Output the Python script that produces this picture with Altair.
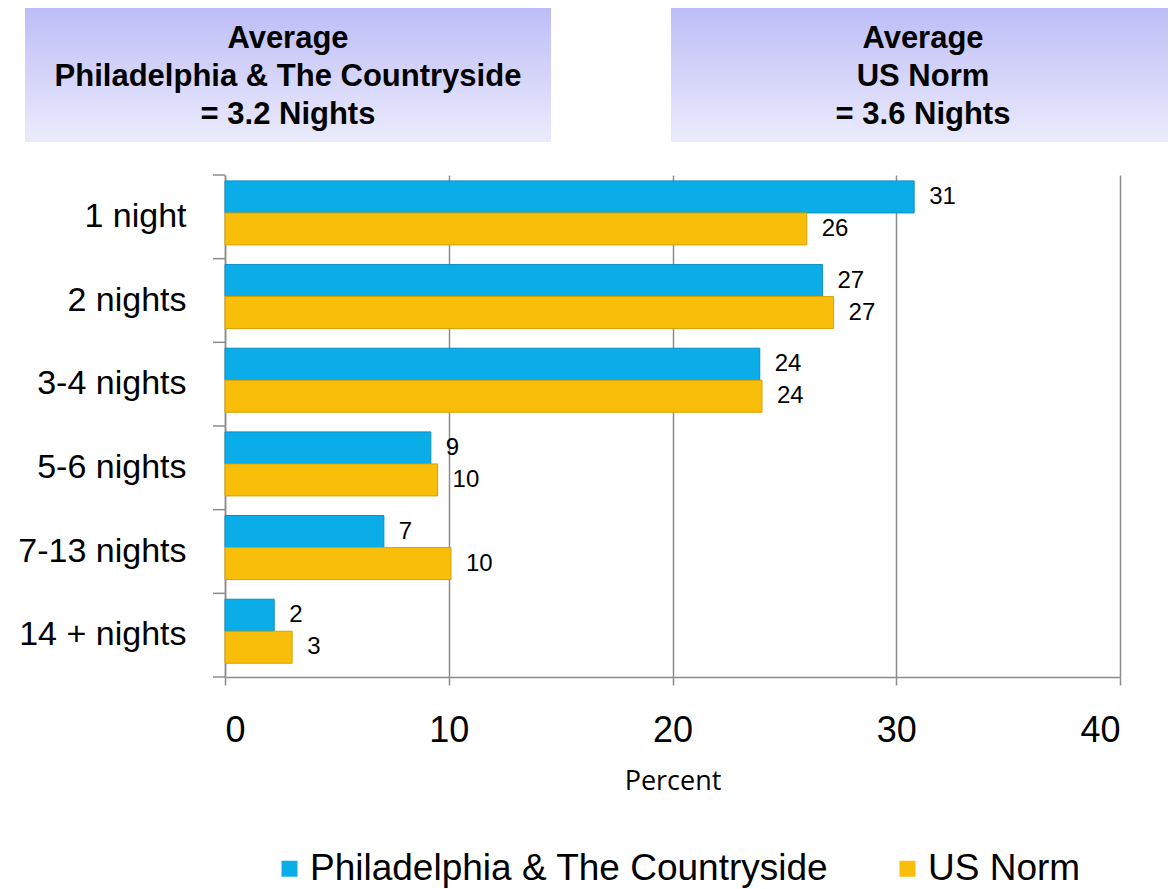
import altair as alt
import pandas as pd

categories = ["1 night", "2 nights", "3-4 nights", "5-6 nights", "7-13 nights", "14 + nights"]
series = ["Philadelphia & The Countryside", "US Norm"]
phila_values = [30.8, 26.7, 23.9, 9.2, 7.1, 2.2]
phila_labels = ["31", "27", "24", "9", "7", "2"]
us_values = [26.0, 27.2, 24.0, 9.5, 10.1, 3.0]
us_labels = ["26", "27", "24", "10", "10", "3"]
x_ticks = [0, 10, 20, 30, 40]
header_left = "Average\nPhiladelphia & The Countryside\n= 3.2 Nights"
header_right = "Average\nUS Norm\n= 3.6 Nights"
colors = ["#0AADE8", "#F9BE0A"]
stroke_colors = ["#0890C2", "#D9A000"]

rows = []
for c, v, l in zip(categories, phila_values, phila_labels):
    rows.append({"cat": c, "series": series[0], "value": v, "label": l})
for c, v, l in zip(categories, us_values, us_labels):
    rows.append({"cat": c, "series": series[1], "value": v, "label": l})
df = pd.DataFrame(rows)
cat_df = pd.DataFrame({"cat": categories})

FONT = "Liberation Sans"
W, H = 895, 502
GRID = "#8C8C8C"

y_enc = alt.Y("cat:N", sort=categories,
              scale=alt.Scale(paddingInner=0, paddingOuter=0),
              axis=alt.Axis(title=None, ticks=False, labelFontSize=34, labelFont=FONT,
                            labelColor="#000000", labelPadding=39, domainColor=GRID,
                            domainWidth=1.5))
x_enc = alt.X("value:Q", scale=alt.Scale(domain=[0, 40], nice=False),
              axis=alt.Axis(values=x_ticks, grid=True, gridColor=GRID, gridWidth=1.5,
                            tickColor=GRID, tickWidth=1.5, tickSize=8, domainColor=GRID,
                            domainWidth=1.5, labelFontSize=36, labelFont=FONT,
                            labelColor="#000000", labelPadding=28, title="Percent",
                            titleFont="Open Sans", titleFontSize=27, titleFontWeight="normal",
                            titleColor="#000000", titlePadding=20))
yoff = alt.YOffset("series:N", sort=series,
                   scale=alt.Scale(paddingInner=0, paddingOuter=0.307, align=0.3))

bars = alt.Chart(df).mark_bar(strokeWidth=1).encode(
    x=x_enc,
    y=y_enc,
    yOffset=yoff,
    color=alt.Color("series:N", sort=series,
                    scale=alt.Scale(domain=series, range=colors),
                    legend=alt.Legend(orient="none", legendX=46, legendY=675,
                                      direction="horizontal", title=None,
                                      symbolType="square", symbolSize=256,
                                      symbolStrokeWidth=0, labelFontSize=37,
                                      labelFont=FONT, labelColor="#000000",
                                      labelOffset=2, columnPadding=60, labelLimit=0)),
    stroke=alt.Stroke("series:N", sort=series,
                      scale=alt.Scale(domain=series, range=stroke_colors), legend=None),
)

texts = alt.Chart(df).mark_text(align="left", baseline="middle", dx=15, fontSize=24,
                                font=FONT, color="#000000").encode(
    x="value:Q",
    y=alt.Y("cat:N", sort=categories),
    yOffset=alt.YOffset("series:N", sort=series),
    text="label:N",
)

ticks = alt.Chart(cat_df).mark_rule(color=GRID, strokeWidth=1.5).encode(
    y=alt.Y("cat:N", sort=categories, bandPosition=0),
    x=alt.value(-12), x2=alt.value(0),
)
bottom_tick = alt.Chart(cat_df.head(1)).mark_rule(color=GRID, strokeWidth=1.5).encode(
    y=alt.value(H), x=alt.value(-12), x2=alt.value(0),
)

grad = alt.Gradient(gradient="linear",
                    stops=[alt.GradientStop(color="#BDBDF7", offset=0),
                           alt.GradientStop(color="#EBEBFC", offset=1)],
                    x1=0, x2=0, y1=0, y2=1)

hl_df = pd.DataFrame({"t": [header_left]})
hr_df = pd.DataFrame({"t": [header_right]})
box_l = alt.Chart(hl_df).mark_rect(color=grad, clip=False).encode(
    x=alt.value(-200), x2=alt.value(326), y=alt.value(-168), y2=alt.value(-33))
box_r = alt.Chart(hr_df).mark_rect(color=grad, clip=False).encode(
    x=alt.value(446), x2=alt.value(960), y=alt.value(-168), y2=alt.value(-33))
txt_l = alt.Chart(hl_df).mark_text(fontSize=31, fontWeight="bold", font=FONT,
                                   lineBreak="\n", lineHeight=38, baseline="middle",
                                   align="center", color="#000000").encode(
    x=alt.value(63), y=alt.value(-136), text="t:N")
txt_r = alt.Chart(hr_df).mark_text(fontSize=31, fontWeight="bold", font=FONT,
                                   lineBreak="\n", lineHeight=38, baseline="middle",
                                   align="center", color="#000000").encode(
    x=alt.value(698), y=alt.value(-136), text="t:N")

chart = alt.layer(box_l, box_r, txt_l, txt_r, bars, texts, ticks, bottom_tick).resolve_scale(
    yOffset="shared"
).properties(
    width=W, height=H,
    autosize=alt.AutoSizeParams(type="none"),
    padding={"left": 217, "top": 167, "right": 48, "bottom": 212},
).configure_view(stroke=None)

chart.save("out.html", embed_options={"renderer": "svg", "actions": False})
